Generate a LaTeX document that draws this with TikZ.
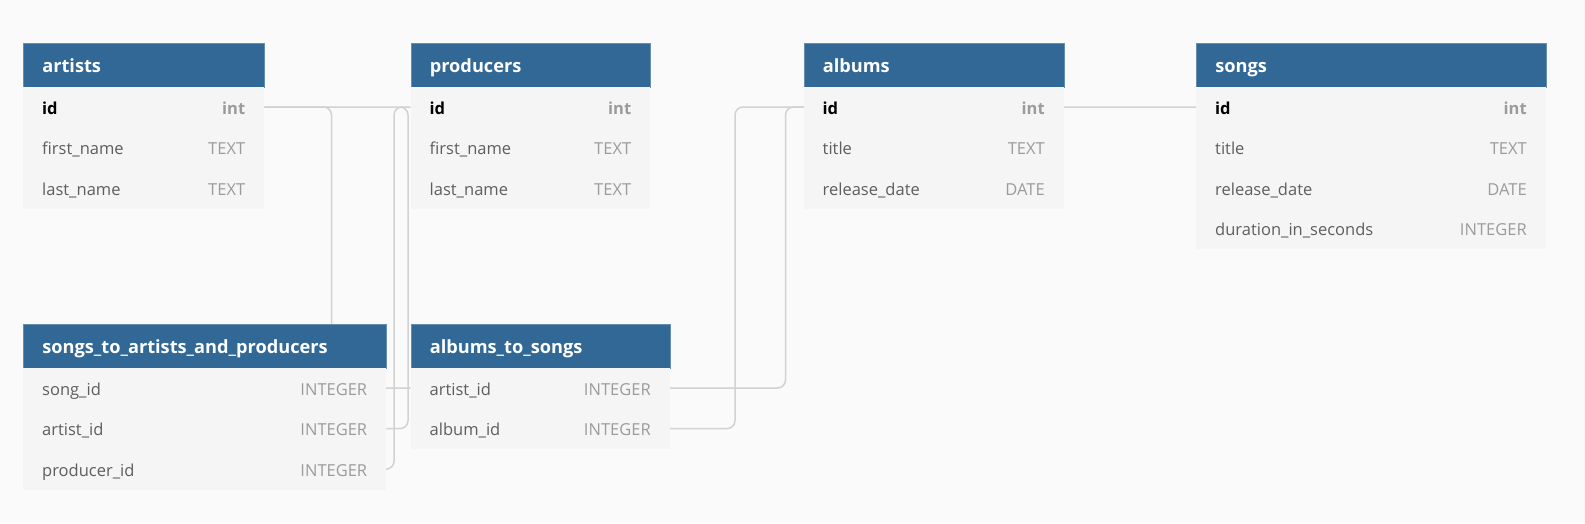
\documentclass[tikz,border=0pt]{standalone}
\usepackage{fontspec}
\setmainfont{Open Sans}

\definecolor{hdrblue}{HTML}{316896}
\definecolor{rowgray}{HTML}{F5F5F5}
\definecolor{namegray}{HTML}{5E5E5E}
\definecolor{typegray}{HTML}{9B9B9B}
\definecolor{linkgray}{HTML}{D2D2D2}
\definecolor{pagegray}{HTML}{FAFAFA}

\pgfdeclarelayer{background}
\pgfsetlayers{background,main}

\begin{document}
\begin{tikzpicture}[x=1pt,y=-1pt,
        header/.style={rectangle,fill=hdrblue,draw=hdrblue!75!white,line width=0.6pt,text=white,
            font=\fontsize{18.2}{21}\selectfont\bfseries,anchor=north west,minimum height=44pt,
            inner xsep=19pt,inner ysep=0pt,text height=15.5pt,text depth=0pt},
        field/.style={rectangle,fill=rowgray,text=namegray,font=\fontsize{16.5}{20}\selectfont,
            anchor=north west,minimum height=40.6pt,inner xsep=19pt,inner ysep=0pt,
            text height=14pt,text depth=0pt},
        link/.style={draw=linkgray,line width=1.5pt,rounded corners=8pt}]

    \useasboundingbox (0,0) rectangle (1585,523);

    % top row of tables
    \node[header,text width=203pt] (artists) at (23,42.5) {artists};
    \foreach \n/\t [count=\i] in {{{\color{black}\bfseries id}}/{{\bfseries int}},first\_name/TEXT,last\_name/TEXT}
        \node[field] (artists-\i) at (23,{86.5+40.6*(\i-1)}) {\makebox[203pt]{\n\hfill{\color{typegray}\t}}};

    \node[header,text width=201.5pt] (producers) at (410.5,42.5) {producers};
    \foreach \n/\t [count=\i] in {{{\color{black}\bfseries id}}/{{\bfseries int}},first\_name/TEXT,last\_name/TEXT}
        \node[field] (producers-\i) at (410.5,{86.5+40.6*(\i-1)}) {\makebox[201.5pt]{\n\hfill{\color{typegray}\t}}};

    \node[header,text width=222pt] (albums) at (803.5,42.5) {albums};
    \foreach \n/\t [count=\i] in {{{\color{black}\bfseries id}}/{{\bfseries int}},title/TEXT,release\_date/DATE}
        \node[field] (albums-\i) at (803.5,{86.5+40.6*(\i-1)}) {\makebox[222pt]{\n\hfill{\color{typegray}\t}}};

    \node[header,text width=311.5pt] (songs) at (1196,42.5) {songs};
    \foreach \n/\t [count=\i] in {{{\color{black}\bfseries id}}/{{\bfseries int}},title/TEXT,release\_date/DATE,duration\_in\_seconds/INTEGER}
        \node[field] (songs-\i) at (1196,{86.5+40.6*(\i-1)}) {\makebox[311.5pt]{\n\hfill{\color{typegray}\t}}};

    % bottom row of tables
    \node[header,text width=325pt] (sap) at (23,323.5) {songs\_to\_artists\_and\_producers};
    \foreach \n/\t [count=\i] in {song\_id/INTEGER,artist\_id/INTEGER,producer\_id/INTEGER}
        \node[field] (sap-\i) at (23,{367.5+40.6*(\i-1)}) {\makebox[325pt]{\n\hfill{\color{typegray}\t}}};

    \node[header,text width=221pt] (ats) at (410.5,323.5) {albums\_to\_songs};
    \foreach \n/\t [count=\i] in {artist\_id/INTEGER,album\_id/INTEGER}
        \node[field] (ats-\i) at (410.5,{367.5+40.6*(\i-1)}) {\makebox[221pt]{\n\hfill{\color{typegray}\t}}};

    % connectors under the tables
    \begin{pgfonlayer}{background}
        \fill[pagegray] (0,0) rectangle (1585,523);
        \draw[link] (artists-1.east) -| (331.5,300) |- (ats-1.west);
        \draw[link] (sap-2.east) -| (408,300) |- (artists-1.east);
        \draw[link] (sap-3.east) -| (394,300) |- (producers-1.west);
        \draw[link] (ats-1.east) -| (785.5,300) |- (songs-1.west);
        \draw[link] (ats-2.east) -| (735,300) |- (albums-1.west);
    \end{pgfonlayer}
\end{tikzpicture}
\end{document}
